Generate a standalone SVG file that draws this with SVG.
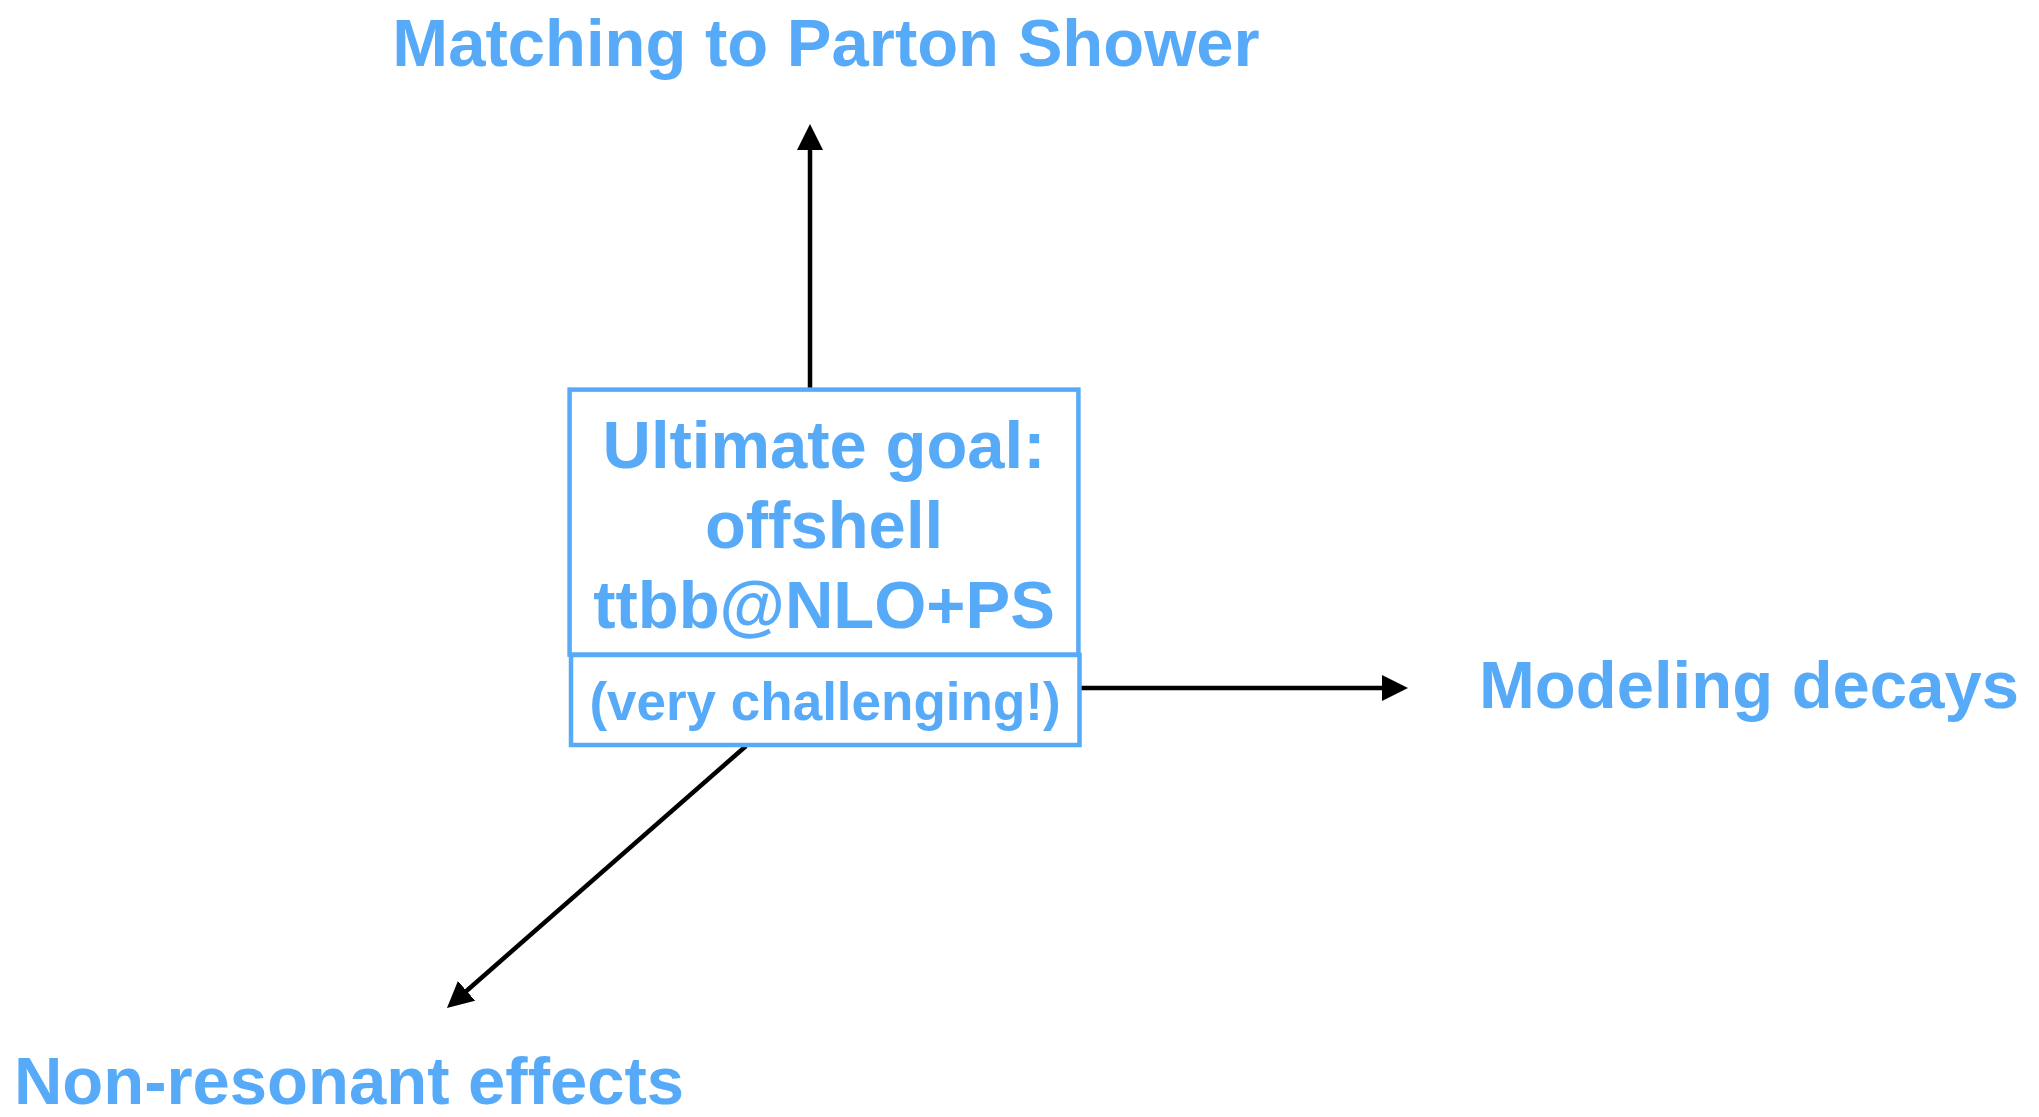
<svg xmlns="http://www.w3.org/2000/svg" width="2039" height="1117" viewBox="0 0 2039 1117">
<style>
.lbl{font-family:"Liberation Sans",Arial,Helvetica,sans-serif;font-weight:bold;fill:#56aaf8;}
.big{font-size:67px;}
.small{font-size:53px;}
.box{fill:none;stroke:#56aaf8;stroke-width:4.5;}
.conn{stroke:#000;stroke-width:4.5;fill:none;marker-end:url(#ah);}
</style>
<defs>
<marker id="ah" markerUnits="userSpaceOnUse" markerWidth="27" markerHeight="27" refX="2" refY="13" orient="auto" viewBox="0 0 27 27">
<path d="M0,0 L26,13 L0,26 z" fill="#000"/>
</marker>
</defs>
<rect width="2039" height="1117" fill="#fff"/>
<g id="connectors">
<line class="conn" x1="810" y1="389" x2="810" y2="148"/>
<line class="conn" x1="1081" y1="688" x2="1384" y2="688"/>
<line class="conn" x1="746" y1="746" x2="465" y2="992.2"/>
</g>
<g id="goal">
<rect class="box" x="569.6" y="389.6" width="508.8" height="265"/>
<text class="lbl big" x="824" y="468" text-anchor="middle">Ultimate goal:</text>
<text class="lbl big" x="824" y="548" text-anchor="middle">offshell</text>
<text class="lbl big" x="824" y="628" text-anchor="middle">ttbb@NLO+PS</text>
</g>
<g id="challenge">
<rect class="box" x="571" y="655" width="508.5" height="90"/>
<text class="lbl small" x="825" y="720" text-anchor="middle">(very challenging!)</text>
</g>
<g id="matching">
<text class="lbl big" x="826" y="66" text-anchor="middle">Matching to Parton Shower</text>
</g>
<g id="decays">
<text class="lbl big" x="1749" y="708" text-anchor="middle">Modeling decays</text>
</g>
<g id="nonresonant">
<text class="lbl big" x="349" y="1104" text-anchor="middle">Non-resonant effects</text>
</g>
</svg>
